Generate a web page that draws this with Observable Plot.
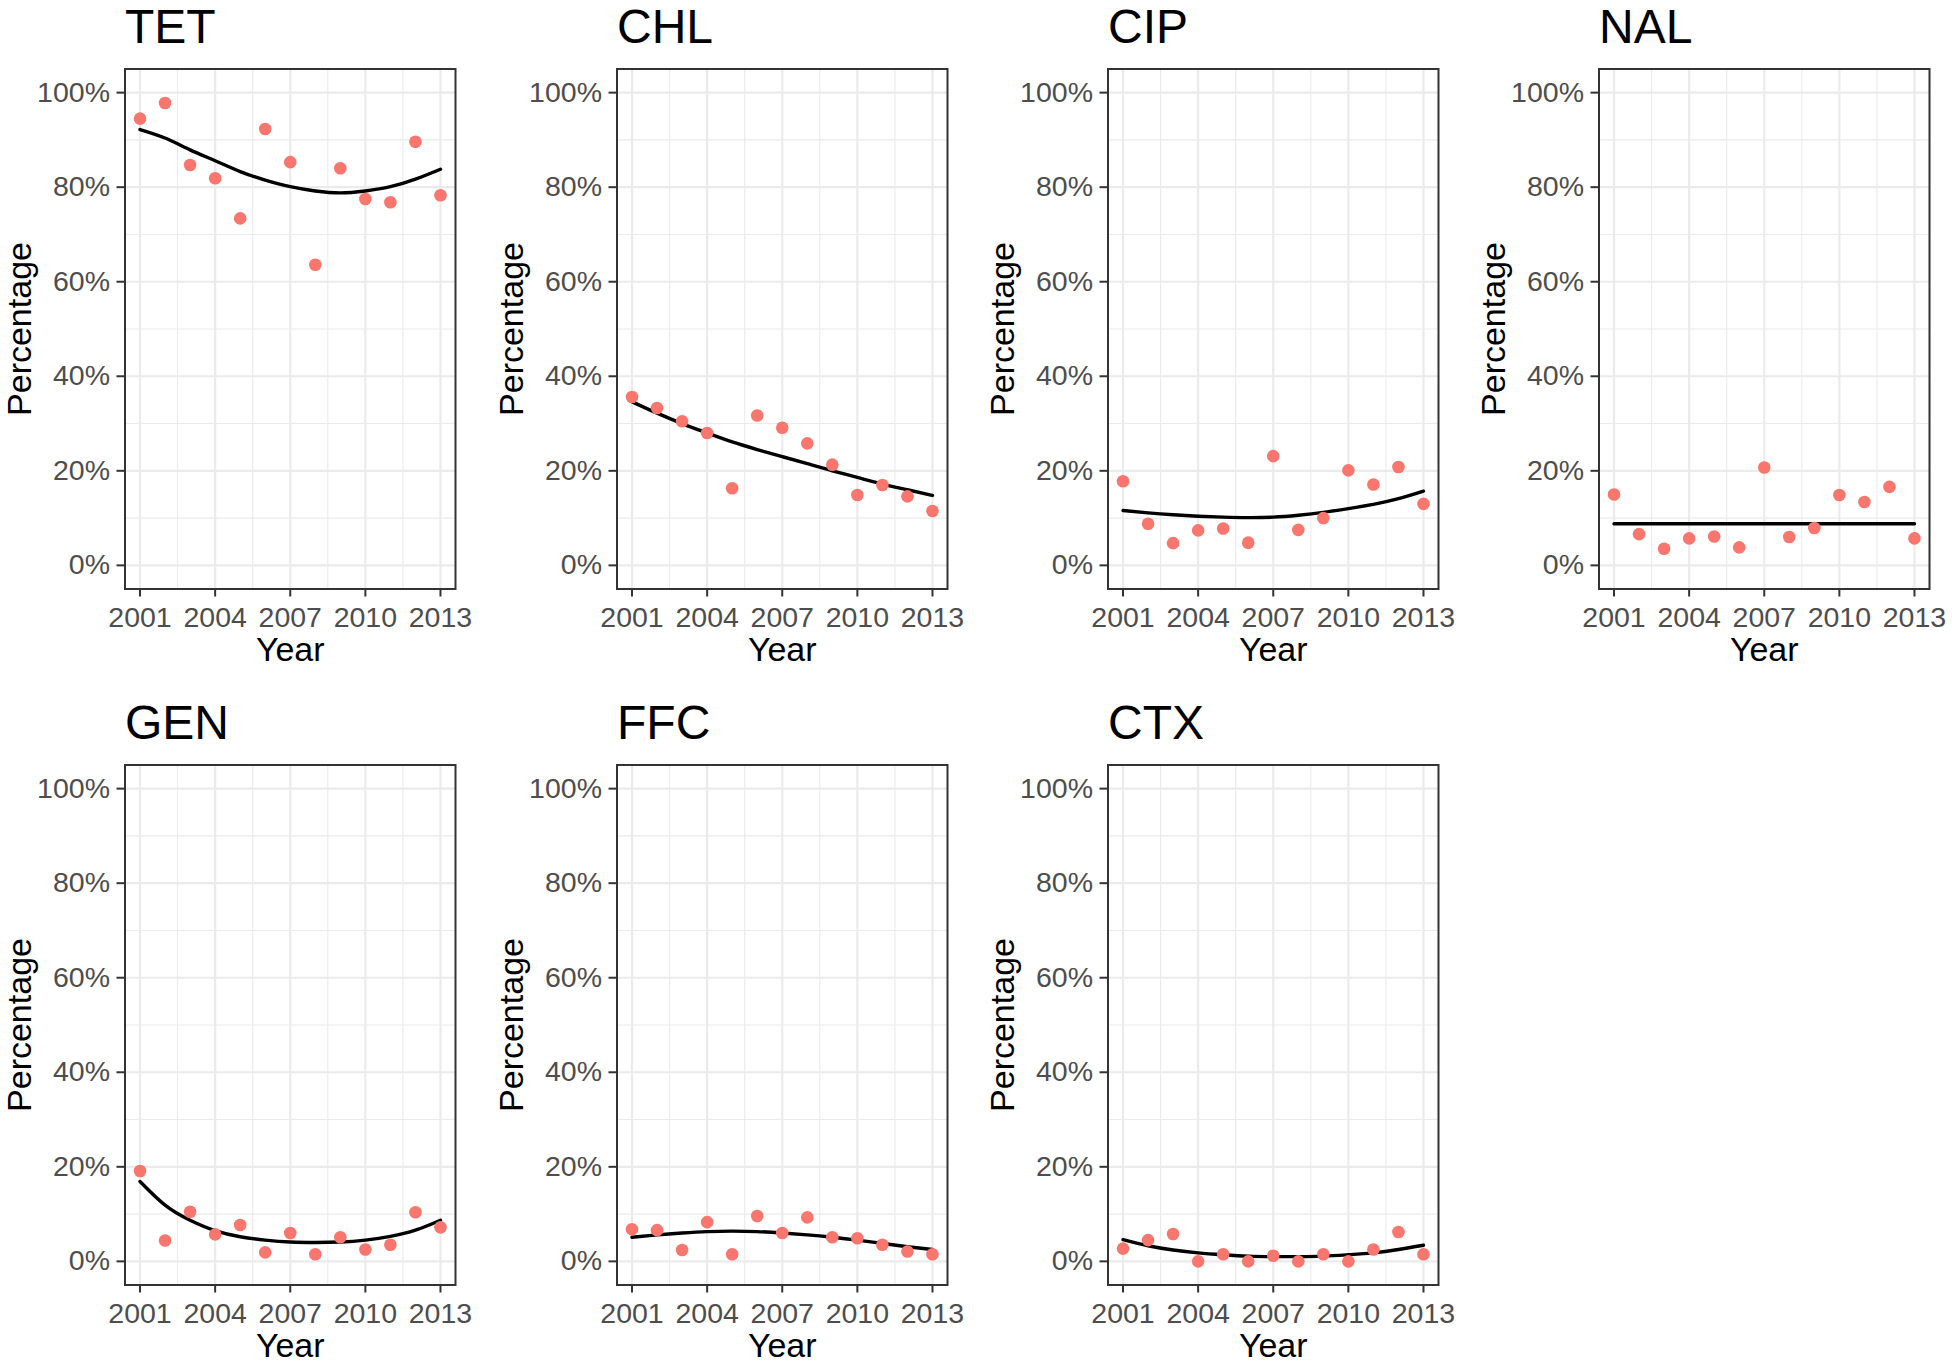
<!DOCTYPE html>
<html>
<head>
<meta charset="utf-8">
<script src="https://cdn.jsdelivr.net/npm/d3@7"></script>
<script src="https://cdn.jsdelivr.net/npm/@observablehq/plot@0.6"></script>
<style>
  html, body { margin: 0; padding: 0; background: #ffffff; overflow: hidden; }
  #chart { position: relative; width: 1952px; height: 1364px; background: #ffffff; }
  #chart > svg { position: absolute; }
</style>
</head>
<body>
<div id="chart"></div>
<script>
// ---- data ----
const years = [2001, 2002, 2003, 2004, 2005, 2006, 2007, 2008, 2009, 2010, 2011, 2012, 2013];
const drugs = ["TET", "CHL", "CIP", "NAL", "GEN", "FFC", "CTX"];

// observed percentages
const tetPct = [94.5, 97.8, 84.7, 81.9, 73.4, 92.3, 85.3, 63.6, 84.0, 77.5, 76.8, 89.6, 78.3];
const chlPct = [35.6, 33.3, 30.5, 28.0, 16.3, 31.7, 29.1, 25.8, 21.3, 14.9, 17.0, 14.6, 11.5];
const cipPct = [17.8, 8.8, 4.7, 7.4, 7.8, 4.8, 23.1, 7.5, 10.0, 20.1, 17.1, 20.8, 13.0];
const nalPct = [15.0, 6.6, 3.5, 5.7, 6.1, 3.8, 20.7, 6.0, 7.9, 14.9, 13.4, 16.6, 5.7];
const genPct = [19.1, 4.4, 10.5, 5.7, 7.7, 1.9, 6.0, 1.5, 5.1, 2.5, 3.5, 10.4, 7.2];
const ffcPct = [6.8, 6.6, 2.4, 8.3, 1.5, 9.6, 6.0, 9.3, 5.1, 4.9, 3.5, 2.1, 1.5];
const ctxPct = [2.7, 4.5, 5.8, 0.0, 1.5, 0.0, 1.2, 0.0, 1.5, 0.0, 2.5, 6.2, 1.5];

// fitted trend lines
const tetFit = [92.2, 90.4, 87.9, 85.6, 83.3, 81.5, 80.1, 79.2, 78.8, 79.2, 80.1, 81.7, 83.8];
const chlFit = [34.6, 32.2, 30.0, 28.0, 26.1, 24.5, 23.0, 21.5, 20.0, 18.6, 17.2, 16.0, 14.8];
const cipFit = [11.6, 11.1, 10.7, 10.4, 10.2, 10.1, 10.2, 10.6, 11.2, 12.0, 12.9, 14.1, 15.7];
const nalFit = [8.8, 8.8, 8.8, 8.8, 8.8, 8.8, 8.8, 8.8, 8.8, 8.8, 8.8, 8.8, 8.8];
const genFit = [16.9, 11.9, 8.7, 6.5, 5.2, 4.5, 4.1, 4.0, 4.1, 4.5, 5.3, 6.6, 8.7];
const ffcFit = [5.1, 5.6, 6.0, 6.3, 6.4, 6.3, 6.0, 5.6, 5.1, 4.5, 3.8, 3.1, 2.5];
const ctxFit = [4.6, 3.3, 2.4, 1.8, 1.4, 1.1, 1.0, 1.0, 1.1, 1.4, 1.8, 2.5, 3.4];

const xTicks = [2001, 2004, 2007, 2010, 2013];
const xMinor = [2002.5, 2005.5, 2008.5, 2011.5];
const yTicks = [0, 20, 40, 60, 80, 100];
const yMinor = [10, 30, 50, 70, 90];

const pctSeries = [tetPct, chlPct, cipPct, nalPct, genPct, ffcPct, ctxPct];
const fitSeries = [tetFit, chlFit, cipFit, nalFit, genFit, ffcFit, ctxFit];

// ---- layout ----
const W = 480, H = 696;
const mL = 124.5, mT = 68.5, frameW = 330.5, frameH = 520;
const colLeft = [0, 491.5, 983, 1474];
const FONT = "'Liberation Sans', Arial, Helvetica, sans-serif";

function panel(name, pts, fit) {
  const data = years.map((y, i) => ({year: y, pct: pts[i], fit: fit[i]}));
  return Plot.plot({
    width: W,
    height: H,
    marginLeft: mL,
    marginRight: W - mL - frameW,
    marginTop: mT,
    marginBottom: H - mT - frameH,
    x: {domain: [2000.4, 2013.6], label: null},
    y: {domain: [-5, 105], label: null},
    style: {fontFamily: FONT, background: "transparent", overflow: "visible"},
    marks: [
      Plot.ruleY(yMinor, {stroke: "#EBEBEB", strokeWidth: 1.1}),
      Plot.ruleX(xMinor, {stroke: "#EBEBEB", strokeWidth: 1.1}),
      Plot.ruleY(yTicks, {stroke: "#EBEBEB", strokeWidth: 2.2}),
      Plot.ruleX(xTicks, {stroke: "#EBEBEB", strokeWidth: 2.2}),
      Plot.line(data, {x: "year", y: "fit", stroke: "#000000", strokeWidth: 3.4, curve: "natural"}),
      Plot.dot(data, {x: "year", y: "pct", r: 6.3, fill: "#F8766D"}),
      Plot.frame({stroke: "#333333", strokeWidth: 2}),
      Plot.axisX({ticks: xTicks, tickSize: 8, tickPadding: 10, stroke: "#333333", strokeWidth: 2,
                  fill: "#4D4D4D", fontSize: 28.5, tickFormat: d => String(d), label: null}),
      Plot.axisY({ticks: yTicks, tickSize: 8, tickPadding: 7, stroke: "#333333", strokeWidth: 2,
                  fill: "#4D4D4D", fontSize: 28.5, tickFormat: d => d + "%", label: null}),
      Plot.text([name], {frameAnchor: "top-left", text: d => d, dy: 42 - mT, lineAnchor: "bottom",
                         textAnchor: "start", fontSize: 48, fill: "#000000"}),
      Plot.text(["Year"], {frameAnchor: "bottom", text: d => d, dy: 660.5 - (mT + frameH), lineAnchor: "bottom",
                           textAnchor: "middle", fontSize: 34, fill: "#000000"}),
      Plot.text(["Percentage"], {frameAnchor: "left", text: d => d, dx: -104.5, rotate: -90,
                                 textAnchor: "middle", lineAnchor: "middle", fontSize: 34, fill: "#000000"})
    ]
  });
}

const chart = document.getElementById("chart");
drugs.forEach((name, i) => {
  const row = Math.floor(i / 4), col = i % 4;
  const svg = panel(name, pctSeries[i], fitSeries[i]);
  svg.style.left = colLeft[col] + "px";
  svg.style.top = (row * H) + "px";
  chart.appendChild(svg);
});
</script>
</body>
</html>
